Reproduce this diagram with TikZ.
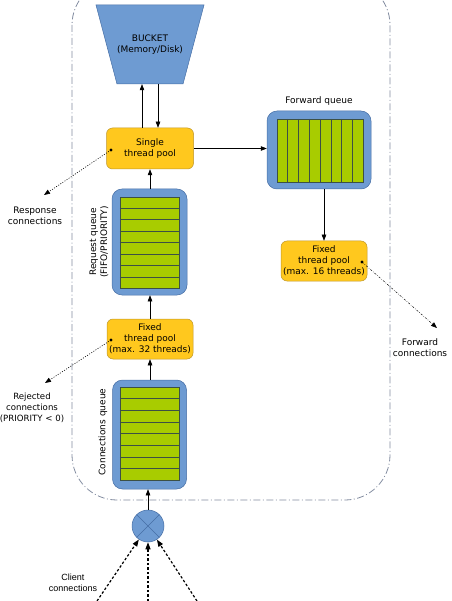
\documentclass[tikz,border=0pt]{standalone}
\usepackage{fontspec}
\setmainfont{DejaVu Sans}
\newfontfamily\arialf{Liberation Sans}
\usetikzlibrary{shapes.geometric,arrows.meta,calc}
\definecolor{bluefill}{RGB}{110,155,210}
\definecolor{blueline}{RGB}{70,110,165}
\definecolor{goldfill}{RGB}{255,200,30}
\definecolor{goldline}{RGB}{190,150,40}
\definecolor{greenfill}{RGB}{168,204,0}
\definecolor{divline}{RGB}{60,80,70}
\definecolor{boundline}{RGB}{130,140,160}
\tikzset{
  txt/.style={font=\fontsize{9}{11}\selectfont, align=center, inner sep=0pt},
  pool/.style={txt, draw=goldline, fill=goldfill, rounded corners=6pt, line width=0.5pt},
  qouter/.style={draw=blueline, fill=bluefill, rounded corners=10pt, line width=0.5pt, inner sep=0pt},
  qinner/.style={draw=divline, fill=greenfill, line width=0.4pt, inner sep=0pt},
  arr/.style={-{Triangle[length=6pt,width=4.5pt]}, line width=0.5pt},
  dotarr/.style={-{Triangle[length=6pt,width=4.5pt]}, line width=0.6pt, dash pattern=on 1pt off 1.5pt},
  fwdarr/.style={-{Triangle[length=6pt,width=4.5pt]}, line width=0.5pt, dash pattern=on 2pt off 1.5pt on 0.6pt off 1.5pt},
  cliarr/.style={-{Triangle[length=7pt,width=5pt]}, line width=1.2pt, dash pattern=on 2.5pt off 2pt},
  dotmark/.style={circle, fill=black, inner sep=0pt, minimum size=3.2pt},
  bound/.style={draw=boundline, line width=0.8pt, dash pattern=on 7pt off 2.5pt on 1pt off 2.5pt, rounded corners=45pt},
}
\begin{document}
\begin{tikzpicture}[x=1pt,y=-1pt]
\useasboundingbox (0,0) rectangle (451,601);
% boundary
\draw[bound] (72,-20) rectangle (390,500);
% bucket
\draw[draw=blueline, fill=bluefill, line width=0.5pt] (96,5) -- (204,5) -- (183,84) -- (117,84) -- cycle;
\node[txt, minimum width=66pt, minimum height=79pt] (bucket) at (150,44.5) {BUCKET\\(Memory/Disk)};
% single thread pool
\node[pool, minimum width=87pt, minimum height=41pt] (spool) at (150,148.5) {Single\\thread pool};
% request queue
\node[qouter, minimum width=75pt, minimum height=106pt] (rq) at (149.5,242) {};
\node[qinner, minimum width=59pt, minimum height=91pt] (rqi) at (149.5,242.5) {};
\foreach \i in {1,...,7}{
  \draw[divline, line width=0.5pt] ($(rqi.north west)!\i/8!(rqi.south west)$) -- ($(rqi.north east)!\i/8!(rqi.south east)$);
}
\node[txt, rotate=90] (rqlabel) at (99,242) {Request queue\\(FIFO/PRIORITY)};
% fixed pool 32
\node[pool, minimum width=86pt, minimum height=40pt] (p32) at (150,339) {Fixed\\thread pool\\(max. 32 threads)};
% connections queue
\node[qouter, minimum width=74pt, minimum height=109pt] (cq) at (149.5,434.5) {};
\node[qinner, minimum width=59pt, minimum height=93pt] (cqi) at (149.5,433.5) {};
\foreach \i in {1,...,7}{
  \draw[divline, line width=0.5pt] ($(cqi.north west)!\i/8!(cqi.south west)$) -- ($(cqi.north east)!\i/8!(cqi.south east)$);
}
\node[txt, rotate=90] (cqlabel) at (103,432) {Connections queue};
% forward queue
\node[txt] (fqlabel) at (319,101) {Forward queue};
\node[qouter, minimum width=104pt, minimum height=78pt] (fq) at (319,150) {};
\node[qinner, minimum width=86pt, minimum height=63pt] (fqi) at (320,150.5) {};
\foreach \i in {1,...,7}{
  \draw[divline, line width=0.5pt] ($(fqi.north west)!\i/8!(fqi.north east)$) -- ($(fqi.south west)!\i/8!(fqi.south east)$);
}
% fixed pool 16
\node[pool, minimum width=86pt, minimum height=40pt] (p16) at (324,261) {Fixed\\thread pool\\(max. 16 threads)};
% mixer circle
\node[circle, draw=blueline, fill=bluefill, minimum size=32pt, inner sep=0pt, line width=0.5pt] (mix) at (148,526) {};
\draw[blueline, line width=0.5pt] (mix.north west) -- (mix.south east) (mix.north east) -- (mix.south west);
% arrows
\draw[arr] ([xshift=-8pt]spool.north) -- ([xshift=-8pt]spool.north |- bucket.south);
\draw[arr] ([xshift=8pt]spool.north |- bucket.south) -- ([xshift=8pt]spool.north);
\draw[arr] (spool.east) -- (fq.west |- spool.east);
\draw[arr] (p16.north |- fq.south) -- (p16.north);
\draw[arr] (rq.north -| spool.south) -- (spool.south);
\draw[arr] (p32.north) -- (rq.south -| p32.north);
\draw[arr] (cq.north -| p32.south) -- (p32.south);
\draw[arr] (mix.north) -- (cq.south -| mix.north);
% dotted outgoing connections
\node[dotmark] (d1) at (111,150) {};
\node[dotmark] (d2) at (111,340) {};
\node[dotmark] (d3) at (362,262) {};
\coordinate (e1) at (44,195);
\coordinate (e2) at (45,383);
\coordinate (e3) at (437,328);
\draw[dotarr] (d1.center) -- (e1);
\draw[dotarr] (d2.center) -- (e2);
\draw[fwdarr] (d3.center) -- (e3);
\node[txt] (resp) at (35,215.5) {Response\\connections};
\node[txt, font=\fontsize{8.6}{11}\selectfont] (rej) at (32,408) {Rejected\\connections\\(PRIORITY < 0)};
\node[txt] (fwd) at (420,347.5) {Forward\\connections};
% client connections
\coordinate (c1) at (97,601);
\coordinate (c2) at (148,601);
\coordinate (c3) at (197,601);
\draw[cliarr] (c1) -- (mix);
\draw[cliarr] (c2) -- (mix);
\draw[cliarr] (c3) -- (mix);
\node[txt, font=\arialf\fontsize{9}{11}\selectfont] (cli) at (73,582.5) {Client\\connections};
\end{tikzpicture}
\end{document}
